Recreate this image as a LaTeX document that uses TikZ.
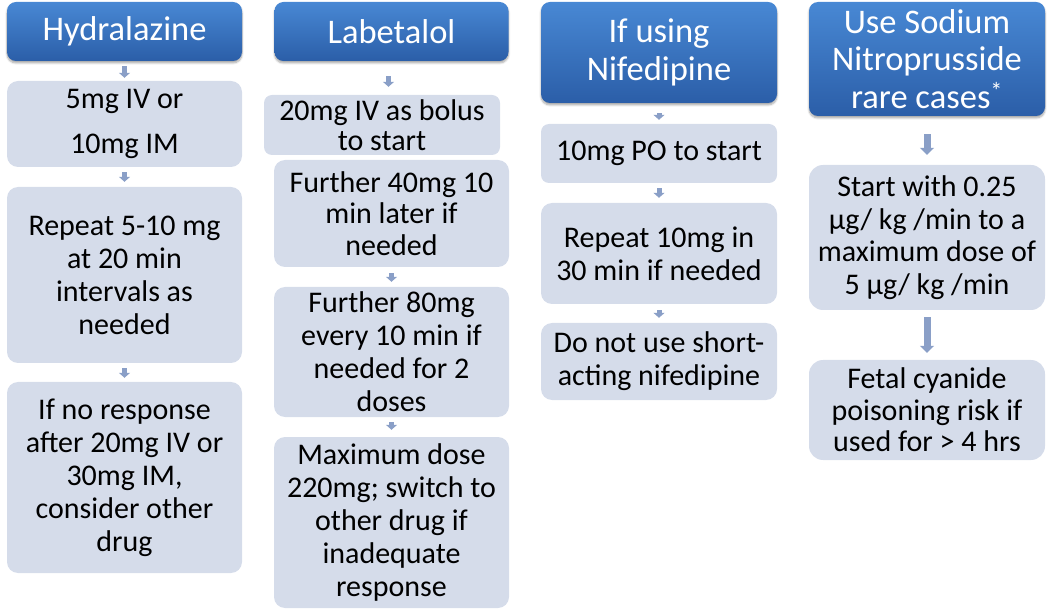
\documentclass[tikz,border=0pt]{standalone}
\usepackage{fontspec}
\setmainfont{Carlito}
\usetikzlibrary{arrows.meta,shadows.blur,calc}
\definecolor{boxfill}{RGB}{213,220,234}
\definecolor{headtop}{RGB}{72,136,212}
\definecolor{headbot}{RGB}{43,94,168}
\definecolor{arrowcol}{RGB}{138,159,199}
\tikzset{
  hdr/.style={rounded corners=9pt, top color=headtop, bottom color=headbot,
    draw=none, text=white, align=center, inner sep=0pt,
    font=\fontsize{34.5}{37.5}\selectfont,
    blur shadow={shadow xshift=0pt, shadow yshift=-2pt, shadow opacity=35, shadow blur steps=6}},
  bx/.style={rounded corners=11pt, fill=boxfill, draw=none, text=black,
    align=center, inner sep=0pt, font=\fontsize{30}{33}\selectfont},
  arr/.style={draw=arrowcol, line width=5pt, -{Triangle[width=11pt,length=5pt]}},
  bigarr/.style={draw=arrowcol, line width=7pt, -{Triangle[width=14pt,length=7pt]}},
}
\begin{document}
\begin{tikzpicture}[x=1pt,y=-1pt]
\useasboundingbox (0,0) rectangle (1050,612);
% Column 1
\node[hdr, minimum width=235pt, minimum height=59pt] (h1) at (124.5,31.5) {Hydralazine};
\node[bx, minimum width=235pt, minimum height=86pt] (b11) at (124.5,124) {5mg IV or\\[12pt]10mg IM};
\node[bx, minimum width=235pt, minimum height=176pt] (b12) at (124.5,275) {Repeat 5-10 mg\\at 20 min\\intervals as\\needed};
\node[bx, minimum width=235pt, minimum height=191pt] (b13) at (124.5,477.5) {If no response\\after 20mg IV or\\30mg IM,\\consider other\\drug};
% Column 2
\node[hdr, minimum width=234pt, minimum height=59pt] (h2) at (391.5,31.5) {Labetalol};
\node[bx, rounded corners=8pt, minimum width=236pt, minimum height=60pt, font=\fontsize{30}{30}\selectfont] (b21) at (382,125) {20mg IV as bolus\\to start};
\node[bx, minimum width=235pt, minimum height=107pt, font=\fontsize{30}{31.5}\selectfont] (b22) at (391.5,213.5) {Further 40mg 10\\min later if\\needed};
\node[bx, minimum width=235pt, minimum height=130pt] (b23) at (391.5,352) {Further 80mg\\every 10 min if\\needed for 2\\doses};
\node[bx, minimum width=235pt, minimum height=171pt] (b24) at (391.5,522.5) {Maximum dose\\220mg; switch to\\other drug if\\inadequate\\response};
% Column 3
\node[hdr, minimum width=236pt, minimum height=101pt] (h3) at (659,52.5) {If using\\Nifedipine};
\node[bx, rounded corners=8pt, minimum width=236pt, minimum height=59pt] (b31) at (659,153.5) {10mg PO to start};
\node[bx, minimum width=236pt, minimum height=101pt] (b32) at (659,253.5) {Repeat 10mg in\\30 min if needed};
\node[bx, minimum width=236pt, minimum height=77pt] (b33) at (659,361.5) {Do not use short-\\acting nifedipine};
% Column 4
\node[hdr, minimum width=236pt, minimum height=114pt] (h4) at (927,59) {Use Sodium\\Nitroprusside\\rare cases\textsuperscript{*}};
\node[bx, rounded corners=14pt, minimum width=236pt, minimum height=145pt, font=\fontsize{30}{32.5}\selectfont] (b41) at (927,237.5) {Start with 0.25\\µg/ kg /min to a\\maximum dose of\\5 µg/ kg /min};
\node[bx, rounded corners=14pt, minimum width=236pt, minimum height=100pt, font=\fontsize{30}{31.5}\selectfont] (b42) at (927,410) {Fetal cyanide\\poisoning risk if\\used for > 4 hrs};
% Arrows
\draw[arr] ($(h1.south)+(0,5)$) -- ($(b11.north)+(0,-3)$);
\draw[arr] ($(b11.south)+(0,5)$) -- ($(b12.north)+(0,-5)$);
\draw[arr] ($(b12.south)+(0,5)$) -- ($(b13.north)+(0,-4)$);
\draw[arr] ($(h2.south)+(-3,15)$) -- ($(h2.south |- b21.north)+(-3,-8)$);
\draw[arr] ($(b22.south)+(0,6)$) -- ($(b23.north)+(0,-5)$);
\draw[arr] ($(b23.south)+(0,5)$) -- ($(b24.north)+(0,-7)$);
\draw[arr] ($(h3.south)+(0,10)$) -- ($(b31.north)+(0,-4)$);
\draw[arr] ($(b31.south)+(0,5)$) -- ($(b32.north)+(0,-5)$);
\draw[arr] ($(b32.south)+(0,6)$) -- ($(b33.north)+(0,-5)$);
\draw[bigarr] ($(h4.south)+(0,18)$) -- ($(b41.north)+(0,-10)$);
\draw[bigarr] ($(b41.south)+(0,7)$) -- ($(b42.north)+(0,-7)$);
\end{tikzpicture}
\end{document}
